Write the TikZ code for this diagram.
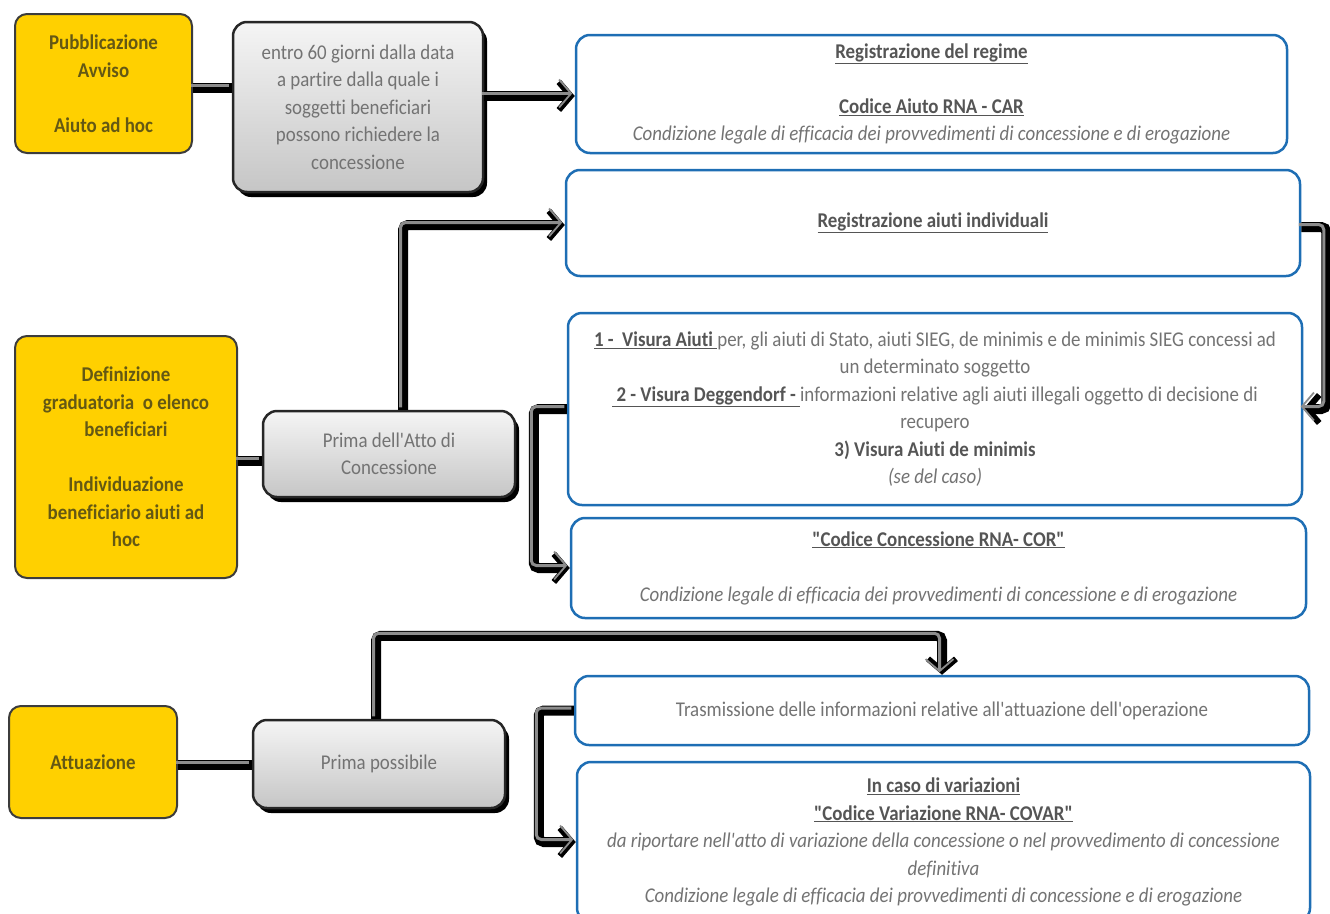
\documentclass[tikz,border=0pt]{standalone}
\usepackage{fontspec}
\setmainfont{Carlito}[FakeStretch=0.9, Ligatures={TeXOff,CommonOff}]
\usepackage{tikz}
\usetikzlibrary{arrows.meta,shadows}

\definecolor{oro}{RGB}{255,208,0}
\definecolor{orotesto}{RGB}{100,88,20}
\definecolor{bordo}{RGB}{60,60,60}
\definecolor{blu}{RGB}{30,110,180}
\definecolor{testo}{RGB}{115,115,115}
\definecolor{scuro}{RGB}{85,85,85}

\begin{document}
\begin{tikzpicture}[x=1pt,y=-1pt,
		every node/.style={font=\fontsize{21}{27.5}\selectfont, align=center, inner sep=0pt},
		fase/.style={draw=bordo, line width=2pt, fill=oro, rounded corners=12pt, text=orotesto, font=\fontsize{21}{27.5}\selectfont\bfseries},
		tempo/.style={draw=black!85, line width=2.5pt, rounded corners=14pt, top color=gray!8, bottom color=gray!45, text=testo, drop shadow={shadow xshift=4pt, shadow yshift=-5pt, fill=black, opacity=1}},
		rna/.style={draw=blu, line width=2.5pt, fill=white, rounded corners=14pt, text=testo},
		conn/.style={line width=10pt, black, rounded corners=5pt, postaction={draw=gray!90, line width=3pt, transform canvas={shift={(-2.5pt,2.5pt)}}}},
		freccia/.style={conn, -{Straight Barb[length=12pt, width=28pt, line width=0pt 0.6]}}]
			\useasboundingbox (0,0) rectangle (1330,913);
			% fasi
			\node[fase, minimum width=177, minimum height=139] (pubb) at (103.5,83.5) {Pubblicazione\\Avviso\\[27.5pt]Aiuto ad hoc};
			\node[fase, minimum width=222, minimum height=242] (defi) at (126,457) {Definizione\\graduatoria\ \ o elenco\\beneficiari\\[27.5pt]Individuazione\\beneficiario aiuti ad\\hoc};
			\node[fase, minimum width=168, minimum height=112] (attu) at (93,762) {Attuazione};
			% tempi
			\node[tempo, minimum width=250, minimum height=170] (entro) at (358,107) {entro 60 giorni dalla data\\a partire dalla quale i\\soggetti beneficiari\\possono richiedere la\\concessione};
			\node[tempo, minimum width=252, minimum height=86] (prima) at (389,454) {Prima dell'Atto di\\Concessione};
			\node[tempo, minimum width=252, minimum height=88] (poss) at (379,764) {Prima possibile};
			% adempimenti RNA
			\node[rna, minimum width=711, minimum height=118] (car) at (931.5,94) {\textcolor{scuro}{\underline{\textbf{Registrazione del regime}}}\\[27.5pt]\textcolor{scuro}{\underline{\textbf{Codice Aiuto RNA - CAR}}}\\\textit{Condizione legale di efficacia dei provvedimenti di concessione e di erogazione}};
			\node[rna, minimum width=734, minimum height=106] (indiv) at (933,223) {\textcolor{scuro}{\underline{\textbf{Registrazione aiuti individuali}}}};
			\node[rna, minimum width=734, minimum height=192] (visura) at (935,409) {\textcolor{scuro}{\underline{\textbf{1 -\ \ Visura Aiuti\ }}}per, gli aiuti di Stato, aiuti SIEG, de minimis e de minimis SIEG concessi ad\\un determinato soggetto\\\textcolor{scuro}{\underline{\textbf{\ 2 - Visura Deggendorf -\ }}}informazioni relative agli aiuti illegali oggetto di decisione di\\recupero\\\textcolor{scuro}{\textbf{3) Visura Aiuti de minimis}}\\\textit{(se del caso)}};
			\node[rna, minimum width=735, minimum height=100] (cor) at (938.5,568) {\textcolor{scuro}{\underline{\textbf{"Codice Concessione RNA- COR"}}}\\[27.5pt]\textit{Condizione legale di efficacia dei provvedimenti di concessione e di erogazione}};
			\node[rna, minimum width=734, minimum height=69] (trasm) at (942,710.5) {Trasmissione delle informazioni relative all'attuazione dell'operazione};
			\node[rna, minimum width=733, minimum height=160] (covar) at (943.5,842) {\textcolor{scuro}{\underline{\textbf{In caso di variazioni}}}\\\textcolor{scuro}{\underline{\textbf{"Codice Variazione RNA- COVAR"}}}\\\textit{da riportare nell'atto di variazione della concessione o nel provvedimento di concessione}\\\textit{definitiva}\\\textit{Condizione legale di efficacia dei provvedimenti di concessione e di erogazione}};
			% collegamenti
			\draw[conn] ([yshift=-4pt]pubb.east) -- ([yshift=-4pt]pubb.east -| entro.west);
			\draw[freccia] ([yshift=-2pt]car.west -| entro.east) -- ([yshift=-2pt]car.west);
			\draw[conn] ([yshift=-4pt]defi.east) -- ([yshift=-4pt]defi.east -| prima.west);
			\draw[freccia] ([xshift=14pt]prima.north) |- ([yshift=-2pt]indiv.west);
			\draw[freccia] ([yshift=-4pt]indiv.east) -- ++(25,0) |- (visura.east);
			\draw[freccia] (visura.west) -- ++(-33,0) |- (cor.west);
			\draw[conn] ([yshift=-3pt]attu.east) -- ([yshift=-3pt]attu.east -| poss.west);
			\draw[freccia] ([xshift=-3pt]poss.north) -- ++(0,-83) -| (trasm.north);
			\draw[freccia] (trasm.west) -- ++(-35,0) |- (covar.west);
		\end{tikzpicture}
\end{document}
